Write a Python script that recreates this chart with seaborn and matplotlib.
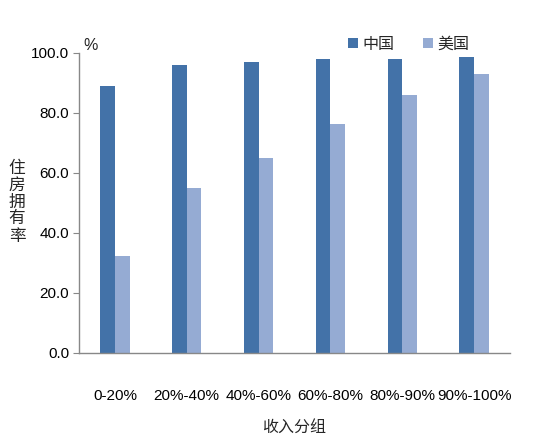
import matplotlib
matplotlib.use("Agg")
import matplotlib.pyplot as plt
import seaborn as sns
import pandas as pd
from matplotlib import font_manager

categories = ["0-20%", "20%-40%", "40%-60%", "60%-80%", "80%-90%", "90%-100%"]
china = [89.0, 96.1, 97.1, 98.1, 98.1, 98.6]
usa = [32.5, 54.9, 65.1, 76.2, 85.9, 93.0]
series_names = ["中国", "美国"]
yticks = [0, 20, 40, 60, 80, 100]

sns.set_theme(style="white")
avail = {f.name for f in font_manager.fontManager.ttflist}
narrow = "Liberation Sans Narrow" if "Liberation Sans Narrow" in avail else "Liberation Sans"
plt.rcParams['font.family'] = [narrow, 'Noto Sans CJK SC', 'DejaVu Sans']
cjk = ['Noto Sans CJK SC', 'DejaVu Sans']

df = pd.DataFrame({
    "group": categories * 2,
    "value": china + usa,
    "country": [series_names[0]] * len(categories) + [series_names[1]] * len(categories),
})

fig = plt.figure(figsize=(5.5, 4.41), dpi=100)
ax = fig.add_axes([79/550, 1-353/441, 431/550, 300/441])
sns.barplot(data=df, x="group", y="value", hue="country", order=categories,
            hue_order=series_names, palette=["#4372A8", "#95ABD3"],
            width=0.41, ax=ax, saturation=1, legend=True, linewidth=0)

ax.set_ylim(0, 100)
ax.set_xlim(-0.5, len(categories) - 0.5)
ax.set_yticks(yticks)
ax.set_yticklabels([f"{v:.1f}" for v in yticks], fontsize=11, color="black")
ax.tick_params(axis="y", left=True, length=4, width=0.8, color="#888888", pad=3)
ax.tick_params(axis="x", bottom=False, labelsize=11, pad=20, labelcolor="black")
for s in ["top", "right"]:
    ax.spines[s].set_visible(False)
for s in ["left", "bottom"]:
    ax.spines[s].set_color("#888888")
    ax.spines[s].set_linewidth(1.0)

ax.set_xlabel("收入分组", fontsize=11.5, family=cjk, labelpad=12)
ax.set_ylabel("")
fig.text(17/550, 1-202/441, "住\n房\n拥\n有\n率", fontsize=12, family=cjk,
         ha="center", va="center", linespacing=1.0)
fig.text(83/550, 1-45/441, "%", fontsize=11.5, ha="left", va="center")

handles, labels = ax.get_legend_handles_labels()
ax.legend(handles, labels, loc="center", bbox_to_anchor=(409/550, 1-44/441),
          bbox_transform=fig.transFigure, ncol=2, frameon=False,
          handlelength=0.6, handleheight=0.6, handletextpad=0.3,
          columnspacing=1.8, prop={"family": cjk, "size": 11.5})

fig.savefig("out.png", dpi=100)
